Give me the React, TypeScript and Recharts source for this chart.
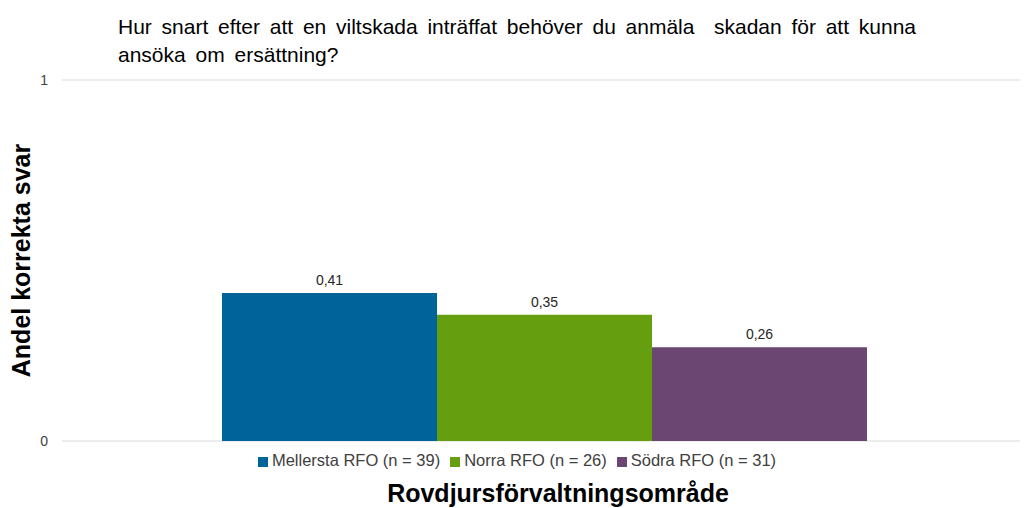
import { BarChart, Bar, XAxis, YAxis, CartesianGrid, Legend, LabelList } from 'recharts'

const categories = ['Alla']
const seriesNames = ['Mellersta RFO (n = 39)', 'Norra RFO (n = 26)', 'Södra RFO (n = 31)']
const seriesValues = [0.41, 0.35, 0.26]
const seriesColors = ['#006399', '#659f0f', '#6b4673']
const yTicks = [0, 1]

const rows = categories.map((name) => {
  const row: Record<string, string | number> = { name }
  seriesNames.forEach((s, i) => {
    row['s' + i] = seriesValues[i]
  })
  return row
})

const font = '"Liberation Sans", Arial, sans-serif'

export default function App() {
  return (
    <div style={{ position: 'absolute', left: 0, top: 0, width: 1024, height: 508, background: '#fff', fontFamily: font }}>
      <div
        style={{
          position: 'absolute',
          left: 118,
          top: 13,
          width: 798,
          fontSize: 21,
          lineHeight: '28px',
          color: '#000',
        }}
      >
        <div style={{ textAlign: 'justify', textAlignLast: 'justify', whiteSpace: 'nowrap' }}>
          Hur snart efter att en viltskada inträffat behöver du anmäla&nbsp; skadan för att kunna
        </div>
        <div style={{ wordSpacing: 4 }}>ansöka om ersättning?</div>
      </div>
      <BarChart
        width={1024}
        height={508}
        data={rows}
        margin={{ top: 80, right: 4, bottom: 48, left: 0 }}
        barCategoryGap={153}
        barGap={0}
      >
        <CartesianGrid vertical={false} stroke="#d9d9d9" />
        <XAxis dataKey="name" hide padding={{ left: 7, right: 0 }} />
        <YAxis
          width={62}
          domain={[0, 1]}
          ticks={yTicks}
          axisLine={false}
          tickLine={false}
          tickSize={0}
          tickMargin={14}
          tick={{ fontSize: 14, fill: '#404040', fontFamily: font }}
          label={{
            value: 'Andel korrekta svar',
            angle: -90,
            position: 'insideLeft',
            offset: 21,
            style: { fontSize: 25, fontWeight: 'bold', fill: '#000', textAnchor: 'middle', fontFamily: font },
          }}
        />
        <Legend
          verticalAlign="bottom"
          iconType="square"
          iconSize={10}
          wrapperStyle={{ fontSize: 16.5, color: '#404040', left: 0, width: 1044, top: 451 }}
          formatter={(v) => <span style={{ color: '#404040' }}>{v}</span>}
        />
        {seriesNames.map((s, i) => (
          <Bar key={s} dataKey={'s' + i} name={s} fill={seriesColors[i]} isAnimationActive={false}>
            <LabelList
              dataKey={'s' + i}
              position="top"
              offset={8}
              formatter={(v: any) => String(v).replace('.', ',')}
              style={{ fontSize: 14, fill: '#262626', fontFamily: font }}
            />
          </Bar>
        ))}
      </BarChart>
      <div
        style={{
          position: 'absolute',
          left: 36,
          top: 479,
          width: 1044,
          textAlign: 'center',
          fontSize: 25,
          fontWeight: 'bold',
          color: '#000',
        }}
      >
        Rovdjursförvaltningsområde
      </div>
    </div>
  )
}
